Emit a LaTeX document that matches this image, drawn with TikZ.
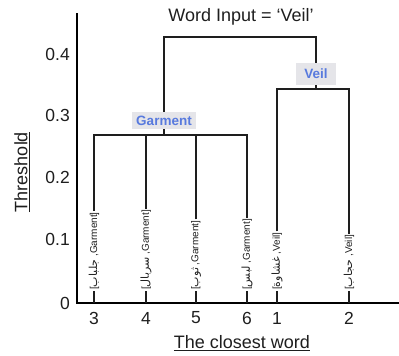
\documentclass[tikz,border=0pt]{standalone}
\usepackage{fontspec}
\setmainfont{Liberation Sans}
\newfontfamily\arabicfont[Script=Arabic,Scale=1.1]{DejaVu Sans}
\TeXXeTstate=1
\definecolor{tagblue}{RGB}{88,122,222}
\definecolor{tagbg}{RGB}{229,229,233}
\definecolor{ink}{RGB}{30,30,30}
\begin{document}
\begin{tikzpicture}[x=1pt,y=-1pt,
  dend/.style={line width=1.2pt, draw=ink},
  axisline/.style={line width=2.8pt, draw=black},
  ticklab/.style={font=\fontsize{17.5}{17.5}\selectfont, text=ink, anchor=east, inner sep=0pt},
  leafnum/.style={font=\fontsize{17.5}{17.5}\selectfont, text=ink, inner sep=0pt},
  leaflab/.style={rotate=90, anchor=west, font=\fontsize{10}{10}\selectfont, text=ink, inner sep=1pt},
  tag/.style={fill=tagbg, text=tagblue, font=\bfseries\fontsize{13.5}{13.5}\selectfont, inner sep=0pt},
  axtitle/.style={font=\fontsize{18}{18}\selectfont, text=ink, inner sep=0pt}
]
\useasboundingbox (0,0) rectangle (399,356);
% axes
\coordinate (ytop) at (77,13);
\coordinate (origin) at (77,303);
\coordinate (xend) at (399,303);
\draw[axisline] (ytop) -- (origin) -- (xend);
% tick labels
\node[ticklab] (t0) at (70,303) {0};
\node[ticklab] (t1) at (70,239) {0.1};
\node[ticklab] (t2) at (70,177) {0.2};
\node[ticklab] (t3) at (70,115) {0.3};
\node[ticklab] (t4) at (70,54) {0.4};
% axis titles
\node[axtitle, rotate=90] (ytitle) at (22,172) {\underline{Threshold}};
\node[axtitle] (xtitle) at (242,343) {\underline{The closest word}};
\node[axtitle] (title) at (241,17) {Word Input = ‘Veil’};
% leaf numbers
\node[leafnum] (n3) at (94,318) {3};
\node[leafnum] (n4) at (146,318) {4};
\node[leafnum] (n5) at (196,318) {5};
\node[leafnum] (n6) at (247,318) {6};
\node[leafnum] (n1) at (277,318) {1};
\node[leafnum] (n2) at (349,318) {2};
% leaf labels
\node[leaflab] (l3) at (94,291) {[{\arabicfont\beginR جلباب\endR} ,Garment]};
\node[leaflab] (l4) at (146,291) {[{\arabicfont\beginR سربال\endR} ,Garment]};
\node[leaflab] (l5) at (196,291) {[{\arabicfont\beginR ثوب\endR} ,Garment]};
\node[leaflab] (l6) at (247,291) {[{\arabicfont\beginR لبس\endR} ,Garment]};
\node[leaflab] (l1) at (277,291) {[{\arabicfont\beginR غشاوة\endR} ,Veil]};
\node[leaflab] (l2) at (349,291) {[{\arabicfont\beginR حجاب\endR} ,Veil]};
% ticks from axis to labels
\foreach \l in {l3,l4,l5,l6,l1,l2}{
  \draw[dend] (\l.west) -- (\l.west |- origin);
}
% cluster tags
\node[tag, minimum width=64pt, minimum height=17pt] (garment) at (164,120.5) {Garment};
\node[tag, minimum width=40pt, minimum height=22pt] (veil) at (316,74) {Veil};
% cluster bars
\coordinate (gbar) at (164,135);
\coordinate (vbar) at (316,89);
\coordinate (topL) at (164,37);
\coordinate (topR) at (316,37);
\draw[dend] (l3.east) -- (l3.east |- gbar) -- (l6.east |- gbar) -- (l6.east);
\draw[dend] (l4.east) -- (l4.east |- gbar);
\draw[dend] (l5.east) -- (l5.east |- gbar);
\draw[dend] (garment.south) -- (gbar);
\draw[dend] (l1.east) -- (l1.east |- vbar) -- (l2.east |- vbar) -- (l2.east);
\draw[dend] (veil.south) -- (vbar);
\draw[dend] (garment.north) -- (topL) -- (topR) -- (veil.north);
\end{tikzpicture}
\end{document}
